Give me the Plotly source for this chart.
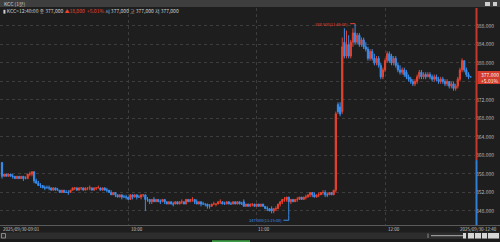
import plotly.graph_objects as go
import pandas as pd

# ---------------- data (KCC 1-minute candles, 2025/09/30 09:01 - 12:40, thousand KRW) ----------------
start_time = "2025-09-30 09:01"
n_bars = 220

opens = [
    358.5, 355.5, 356, 355.5, 356, 355.5, 355.5, 355, 355.5, 355,
    355.5, 355, 355, 356, 356, 356.5, 354.5, 354, 353.5, 353.5,
    353, 353, 353, 353, 352.5, 353, 352.5, 352.5, 352, 352.5,
    352, 352, 352, 352.5, 353, 353, 352.5, 353, 353, 352.5,
    353, 353, 353, 352.5, 353, 353, 353, 352.5, 353, 352.5,
    352.5, 352, 351.5, 352, 351.5, 351, 351.5, 351, 351, 351,
    350.5, 351.5, 351, 351.5, 351, 351, 351.5, 351.5, 350.5, 350.5,
    350, 350.5, 350, 350.5, 350, 350, 350.5, 350, 349.5, 350,
    349.5, 349.5, 350, 349.5, 350, 350, 349.5, 350.5, 350, 350.5,
    350.5, 350, 349.5, 350, 349.5, 349.5, 349.5, 349, 349, 349.5,
    349.5, 349.5, 350, 350, 349.5, 349.5, 350, 349.5, 349.5, 350,
    349.5, 350, 349.5, 350, 349, 349.5, 349, 349.5, 349.5, 349,
    349.5, 349, 349.5, 349, 348.5, 348.5, 348.5, 348, 348.5, 348.5,
    349.5, 350, 350.5, 350.5, 351, 350, 350.5, 350, 350.5, 350.5,
    351, 350.5, 351, 351, 351.5, 352, 351.5, 351, 351.5, 351.5,
    352, 352, 351.5, 351.5, 352, 351.5, 352.5, 371, 370.5, 369.5,
    384.5, 381.5, 384, 381.5, 384.5, 386.5, 384.5, 386, 384, 385,
    383.5, 383, 381, 382.5, 381, 380, 381, 379.5, 377, 378.5,
    380.5, 382, 381.5, 380, 381, 379.5, 378.5, 378, 378.5, 378,
    377, 376.5, 376, 375.5, 376, 377, 378, 377, 377.5, 377,
    377.5, 377, 376.5, 377, 376.5, 376, 376.5, 376, 375.5, 376,
    375, 375.5, 374.5, 375, 376.5, 378.5, 380.5, 378.5, 377.5, 377,
]
highs = [
    358.5, 356, 356, 356, 356, 356, 355.5, 355.5, 355.5, 355.5,
    355.5, 355.5, 356, 356.5, 356.5, 356.5, 355, 354.5, 354, 353.5,
    353.5, 353.5, 353.5, 353, 353, 353, 353, 352.5, 352.5, 352.5,
    352.5, 352.5, 352.5, 353, 353, 353, 353, 353, 353, 353,
    353, 353.5, 353, 353, 353, 353.5, 353, 353, 353, 353,
    352.5, 352.5, 352, 352, 351.5, 351.5, 351.5, 351.5, 351.5, 351,
    351.5, 351.5, 351.5, 351.5, 351.5, 351.5, 351.5, 351.5, 351, 350.5,
    350.5, 351, 350.5, 350.5, 350.5, 350.5, 350.5, 350, 350, 350,
    350, 350, 350, 350, 350.5, 350, 350.5, 350.5, 350.5, 351,
    350.5, 350.5, 350, 350, 350, 349.5, 349.5, 349.5, 349.5, 350,
    349.5, 350, 350.5, 350, 350, 350, 350, 350, 350, 350,
    350, 350, 350, 350.5, 349.5, 349.5, 349.5, 349.5, 349.5, 349.5,
    349.5, 349.5, 349.5, 349, 349, 348.5, 349, 348.5, 349, 349.5,
    350, 350.5, 351, 351, 351, 350.5, 350.5, 350.5, 351, 351,
    351, 351, 351.5, 351.5, 352, 352, 352, 351.5, 352, 352,
    352.5, 352.5, 352, 352, 352, 352.5, 369.5, 371.5, 371.5, 385.5,
    387.5, 387, 386, 385, 387.5, 388.5, 386.5, 386.5, 385.5, 385.5,
    384.5, 383.5, 383, 383, 382, 381.5, 381.5, 380, 379, 381,
    382.5, 382.5, 382, 381.5, 381.5, 380, 379.5, 379, 379, 378.5,
    377.5, 377, 376.5, 376.5, 377.5, 378.5, 378.5, 378, 378, 378,
    378, 377.5, 377.5, 377.5, 377, 377, 377, 376.5, 376.5, 376,
    376, 376, 375.5, 377, 379, 381, 380.5, 379, 378, 377,
]
lows = [
    355, 355.5, 355.5, 355.5, 355.5, 355, 355, 355, 355, 355,
    354.5, 355, 355, 355.5, 355.5, 354, 354, 353.5, 353, 353,
    352.5, 353, 352.5, 352.5, 352.5, 352.5, 352.5, 352, 352, 352,
    352, 351.5, 352, 352.5, 352.5, 352.5, 352.5, 352.5, 352.5, 352.5,
    352.5, 352.5, 352.5, 352.5, 352.5, 353, 352.5, 352.5, 352.5, 352,
    352, 351.5, 351.5, 351, 351, 351, 350.5, 351, 350.5, 350.5,
    350.5, 350.5, 351, 350.5, 351, 350.5, 351, 348, 350, 349.5,
    349.5, 350, 350, 350, 349.5, 350, 349.5, 349.5, 349.5, 349.5,
    349, 349.5, 349.5, 349.5, 349.5, 349.5, 349.5, 350, 350, 350,
    349.5, 349.5, 349.5, 349, 349.5, 349, 348.5, 348.5, 349, 349.5,
    349, 349.5, 349.5, 349.5, 349.5, 349.5, 349.5, 349.5, 349.5, 349.5,
    349.5, 349.5, 349.5, 349, 349, 349, 349, 349, 349, 349,
    349, 349, 349, 348.5, 348, 348, 347.5, 347.5, 348, 348.5,
    349, 349.5, 350, 350, 347, 349.5, 350, 350, 350, 350.5,
    350.5, 350.5, 350.5, 351, 351, 351, 351, 351, 351, 351.5,
    351.5, 351, 351, 351.5, 351.5, 351.5, 352, 369, 368.5, 369,
    381, 381, 381, 381, 383.5, 384, 384, 383.5, 383.5, 383,
    382.5, 380.5, 380.5, 380.5, 379.5, 379.5, 379, 376.5, 376.5, 378,
    380, 380, 379.5, 379.5, 379, 378, 377.5, 377.5, 377, 376.5,
    376, 375.5, 375, 375, 375.5, 376.5, 376.5, 376.5, 376.5, 377,
    376.5, 376, 376, 376, 375.5, 375.5, 375.5, 375, 375, 374.5,
    374.5, 374, 374, 374.5, 376, 378, 378, 377, 376.5, 377,
]
closes = [
    355.5, 356, 355.5, 356, 355.5, 355.5, 355, 355.5, 355, 355.5,
    355, 355, 356, 356, 356.5, 354.5, 354, 353.5, 353.5, 353,
    353, 353, 353, 352.5, 353, 352.5, 352.5, 352, 352.5, 352,
    352, 352, 352.5, 353, 353, 352.5, 353, 353, 352.5, 353,
    353, 353, 352.5, 353, 353, 353, 352.5, 353, 352.5, 352.5,
    352, 351.5, 352, 351.5, 351, 351.5, 351, 351, 351, 350.5,
    351.5, 351, 351.5, 351, 351, 351.5, 351.5, 350.5, 350.5, 350,
    350.5, 350, 350.5, 350, 350, 350.5, 350, 349.5, 350, 349.5,
    349.5, 350, 349.5, 350, 350, 349.5, 350.5, 350, 350.5, 350.5,
    350, 349.5, 350, 349.5, 349.5, 349.5, 349, 349, 349.5, 349.5,
    349.5, 350, 350, 349.5, 349.5, 350, 349.5, 349.5, 350, 349.5,
    350, 349.5, 349.5, 349, 349.5, 349, 349.5, 349.5, 349, 349.5,
    349, 349.5, 349, 348.5, 348.5, 348, 348, 348.5, 348.5, 349.5,
    350, 350.5, 350.5, 351, 350, 350.5, 350, 350.5, 350.5, 351,
    350.5, 351, 351, 351.5, 352, 351.5, 351, 351.5, 351.5, 352,
    352, 351.5, 351.5, 352, 351.5, 352.5, 369, 369.5, 369, 383.5,
    381.5, 384, 381.5, 384.5, 386.5, 384.5, 386, 384, 385, 383.5,
    383, 381, 382.5, 381, 380, 381, 379.5, 377, 378.5, 380.5,
    382, 380.5, 380, 381, 379.5, 378.5, 378, 378.5, 377.5, 377,
    376.5, 376, 375.5, 376, 377, 378, 377, 377.5, 377, 377.5,
    377, 376.5, 377, 376.5, 376, 376.5, 376, 375.5, 376, 375,
    375.5, 374.5, 375, 376.5, 378.5, 380.5, 378.5, 377.5, 377, 377,
]

y_ticks = [348, 352, 356, 360, 364, 368, 372, 376, 380, 384, 388]
y_tick_text = ["348.000", "352.000", "356.000", "360.000", "364.000", "368.000",
               "372.000", "", "380.000", "384.000", "388.000"]
x_grid_times = ["2025-09-30 10:00", "2025-09-30 11:00", "2025-09-30 12:00"]
x_labels = ["2025/09/30-09:01", "10:00", "11:00", "12:00", "2025/09/30-12:40"]

prev_close = 359.0
last_price = 377.0
day_high, day_high_time = 388.5, "11:46:00"
day_low, day_low_time = 347.0, "11:15:00"

# ---------------- layout geometry ----------------
W, H = 500, 242
ML, MR, MT, MB = 0, 25, 8, 17
PW, PH = W - ML - MR, H - MT - MB

def PX(px):
    return (px - ML) / PW

def PY(py):
    return (H - MB - py) / PH

times = pd.date_range(start_time, periods=n_bars, freq="min")

BG = "#1e1e1e"
RED = "#e8432f"
BLUE = "#3a8ded"
GRID = "#3d3d3d"
TXT = "#b8b8b8"
FONT = "Noto Sans CJK KR, DejaVu Sans, sans-serif"

fig = go.Figure()
fig.add_trace(go.Candlestick(
    x=times, open=opens, high=highs, low=lows, close=closes,
    increasing=dict(line=dict(color=RED, width=1), fillcolor=RED),
    decreasing=dict(line=dict(color=BLUE, width=1), fillcolor=BLUE),
    whiskerwidth=0, hoverinfo="skip", showlegend=False,
))

y_lo, y_hi = 344.97, 391.89
x_lo, x_hi = "2025-09-30 09:00:04", "2025-09-30 12:42:02"

fig.update_layout(
    width=W, height=H, autosize=False,
    margin=dict(l=ML, r=MR, t=MT, b=MB, pad=0),
    paper_bgcolor=BG, plot_bgcolor=BG,
    boxgap=0.2,
    font=dict(family=FONT, size=5, color=TXT),
    xaxis=dict(
        type="date", range=[x_lo, x_hi], rangeslider=dict(visible=False),
        tickvals=x_grid_times, showticklabels=False, ticks="",
        showgrid=True, gridcolor=GRID, griddash="dot", gridwidth=1,
        zeroline=False, showline=False,
    ),
    yaxis=dict(
        range=[y_lo, y_hi], side="right", tickvals=y_ticks, ticktext=y_tick_text,
        ticks="", showgrid=True, gridcolor=GRID, griddash="dot", gridwidth=1,
        zeroline=False, showline=False, tickfont=dict(size=5, color=TXT, family=FONT),
    ),
)

shapes = []
annots = []

# y-axis coloured line (red above previous close, blue below)
shapes.append(dict(type="line", xref="paper", yref="y", x0=PX(476.5), x1=PX(476.5),
                   y0=prev_close, y1=y_hi, line=dict(color="#c8372a", width=2)))
shapes.append(dict(type="line", xref="paper", yref="y", x0=PX(476.5), x1=PX(476.5),
                   y0=y_lo, y1=prev_close, line=dict(color="#2f7fd8", width=2)))

# header bar
shapes.append(dict(type="rect", xref="paper", yref="paper", x0=PX(0), x1=PX(500),
                   y0=PY(7), y1=PY(0), fillcolor="#3e3e3e", line=dict(width=0), layer="above"))
for x0, x1 in [(485, 490), (493, 497)]:
    shapes.append(dict(type="rect", xref="paper", yref="paper", x0=PX(x0), x1=PX(x1),
                       y0=PY(6), y1=PY(2), fillcolor="#cfcfcf", line=dict(width=0), layer="above"))
annots.append(dict(xref="paper", yref="paper", x=PX(2), y=PY(3.5), text="KCC (1분)",
                   showarrow=False, xanchor="left", yanchor="middle",
                   font=dict(size=5, color="#d0d0d0", family=FONT)))
info = ("▮ KCC>12:40:00 종 377,000 "
        f"<span style='color:{RED}'>▲18,000  +5.01%</span>"
        " 시 377,000 고 377,000 저 377,000")
annots.append(dict(xref="paper", yref="paper", x=PX(1), y=PY(11.5), text=info,
                   showarrow=False, xanchor="left", yanchor="middle",
                   font=dict(size=5, color="#d0d0d0", family=FONT)))

# current price box
shapes.append(dict(type="rect", xref="paper", yref="paper", x0=PX(477.5), x1=PX(500),
                   y0=PY(84), y1=PY(71), fillcolor="#d23a2c", line=dict(width=0), layer="above"))
annots.append(dict(xref="paper", yref="paper", x=PX(479), y=PY(74.5),
                   text=f"{last_price:.3f}", showarrow=False, xanchor="left", yanchor="middle",
                   font=dict(size=5, color="#f4f4f4", family=FONT)))
annots.append(dict(xref="paper", yref="paper", x=PX(479), y=PY(80.5),
                   text=f"+{(last_price / prev_close - 1) * 100:.2f}%", showarrow=False,
                   xanchor="left", yanchor="middle",
                   font=dict(size=5, color="#f4f4f4", family=FONT)))

# high / low markers
hi_idx = times[times.strftime("%H:%M:%S") == day_high_time][0]
lo_idx = times[times.strftime("%H:%M:%S") == day_low_time][0]
annots.append(dict(xref="x", yref="y", x=hi_idx, y=day_high, xshift=-5,
                   text=f"{day_high:.3f}({day_high_time})", showarrow=False,
                   xanchor="right", yanchor="middle", font=dict(size=4, color=RED, family=FONT)))
shapes.append(dict(type="line", xref="x", yref="y", x0=hi_idx - pd.Timedelta(minutes=2.3),
                   x1=hi_idx, y0=day_high, y1=day_high, line=dict(color=RED, width=1)))
low_text_y = 346.0
annots.append(dict(xref="x", yref="y", x=lo_idx, y=low_text_y, xshift=-5,
                   text=f"{day_low:.3f}({day_low_time})", showarrow=False,
                   xanchor="right", yanchor="middle", font=dict(size=4, color=BLUE, family=FONT)))
shapes.append(dict(type="line", xref="x", yref="y", x0=lo_idx - pd.Timedelta(minutes=2.5),
                   x1=lo_idx, y0=low_text_y, y1=low_text_y, line=dict(color=BLUE, width=1)))
shapes.append(dict(type="line", xref="x", yref="y", x0=lo_idx, x1=lo_idx,
                   y0=low_text_y, y1=day_low, line=dict(color=BLUE, width=1)))

# bottom x-axis strip
shapes.append(dict(type="line", xref="paper", yref="paper", x0=PX(0), x1=PX(500),
                   y0=PY(225.5), y1=PY(225.5), line=dict(color="#5a5a5a", width=1)))
label_pos = [(1, "left"), (128.5, "left"), (255.5, "left"), (386, "left"), (499.5, "right")]
for (px, anc), lab in zip(label_pos, x_labels):
    annots.append(dict(xref="paper", yref="paper", x=PX(px), y=PY(229), text=lab,
                       showarrow=False, xanchor=anc, yanchor="middle",
                       font=dict(size=4.5, color="#c4c4c4", family=FONT)))
shapes.append(dict(type="rect", xref="paper", yref="paper", x0=PX(0), x1=PX(500),
                   y0=PY(239), y1=PY(232.5), fillcolor="#2d2d2d", line=dict(width=0)))
shapes.append(dict(type="rect", xref="paper", yref="paper", x0=PX(1.5), x1=PX(5.5),
                   y0=PY(238), y1=PY(233.5), fillcolor="#2d2d2d", line=dict(color="#8a8a8a", width=1)))
shapes.append(dict(type="line", xref="paper", yref="paper", x0=PX(428), x1=PX(428),
                   y0=PY(238), y1=PY(233.5), line=dict(color="#8a8a8a", width=1)))
shapes.append(dict(type="line", xref="paper", yref="paper", x0=PX(431), x1=PX(464),
                   y0=PY(235.7), y1=PY(235.7), line=dict(color="#b0b0b0", width=1)))
for x0, x1 in [(463, 466), (468, 474), (475, 481), (482, 487), (488, 499)]:
    shapes.append(dict(type="rect", xref="paper", yref="paper", x0=PX(x0), x1=PX(x1),
                       y0=PY(238.5), y1=PY(233), fillcolor="#d6d6d6", line=dict(width=0)))
shapes.append(dict(type="rect", xref="paper", yref="paper", x0=PX(0), x1=PX(500),
                   y0=PY(242), y1=PY(239), fillcolor="#1a1a1a", line=dict(width=0)))
shapes.append(dict(type="rect", xref="paper", yref="paper", x0=PX(212), x1=PX(250),
                   y0=PY(242), y1=PY(240.3), fillcolor="#3d9e46", line=dict(width=0)))

fig.update_layout(shapes=shapes, annotations=annots)
fig.write_html("out.html", config={"displayModeBar": False})
